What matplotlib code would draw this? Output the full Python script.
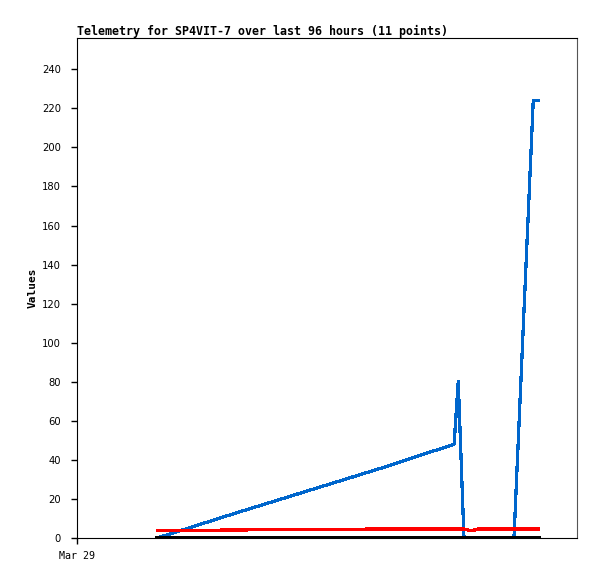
import matplotlib
matplotlib.use('Agg')
import matplotlib.pyplot as plt

# hours since the start of the 96 hour window (Mar 29 00:00)
hours = [15.4, 29.8, 58.2, 72.4, 73.2, 74.3, 75.8, 77.0, 83.9, 87.6, 88.5]

# series
blue_vals = [0, 12.2, 35.6, 48, 80, 0, 0, 0, 0, 224, 224]
red_vals = [3.7, 4.1, 4.6, 4.6, 4.6, 4.6, 3.7, 4.6, 4.6, 4.6, 4.6]
black_vals = [0, 0, 0, 0, 0, 0, 0, 0, 0, 0, 0]

y_ticks = list(range(0, 241, 20))
x_tick_pos = [0]
x_tick_labels = ['Mar 29']

fig = plt.figure(figsize=(5.97, 5.79), dpi=100)
ax = fig.add_axes([77 / 597, 41 / 579, 500 / 597, 500 / 579])

ax.plot(hours, blue_vals, color='#0066cc', lw=1.6, antialiased=False)
ax.plot(hours, red_vals, color='#ff0000', lw=1.6, antialiased=False)
ax.plot(hours, black_vals, color='#000000', lw=2.2, antialiased=False)

ax.set_xlim(0, 96)
ax.set_ylim(0, 256)

ax.set_yticks(y_ticks)
ax.set_yticklabels([str(v) for v in y_ticks], fontsize=7.2, family='DejaVu Sans')
ax.set_xticks(x_tick_pos)
ax.set_xticklabels(x_tick_labels, fontsize=7.2, family='DejaVu Sans Mono')
ax.tick_params(axis='y', direction='out', length=4.5, width=1, pad=7)
ax.tick_params(axis='x', direction='out', length=4.5, width=1, pad=5)

for side in ['left', 'bottom', 'top']:
    ax.spines[side].set_color('black')
ax.spines['right'].set_color('#555555')

ax.set_ylabel('Values', fontsize=8, family='DejaVu Sans Mono', fontweight='bold', labelpad=3)
ax.set_title('Telemetry for SP4VIT-7 over last 96 hours (11 points)', loc='left',
             fontsize=8.35, family='DejaVu Sans Mono', fontweight='bold', pad=2)

fig.savefig('out.png', dpi=100)
